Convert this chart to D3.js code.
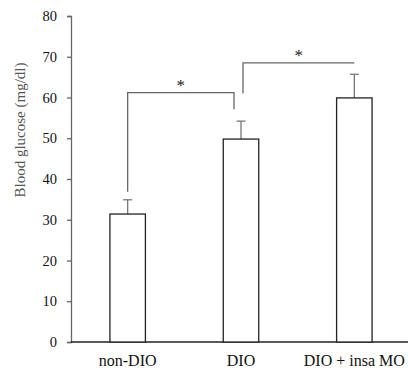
<!DOCTYPE html>
<html>
<head>
<meta charset="utf-8">
<script src="https://cdn.jsdelivr.net/npm/d3@7"></script>
<style>
  body { margin: 0; background: #fff; }
  text { font-family: "Liberation Serif", "DejaVu Serif", serif; }
</style>
</head>
<body>
<svg id="canvas" width="408" height="373"></svg>
<script>
let groups = ["non-DIO", "DIO", "DIO + insa MO"];
let means = [31.4, 49.8, 59.9];
let errors = [3.5, 4.4, 5.8];
let yTicks = [0, 10, 20, 30, 40, 50, 60, 70, 80];

// significance brackets: [from group, to group, top value, left foot, right foot]
let brackets = [
  ["non-DIO", "DIO", 61.2, 36.9, 57.1],
  ["DIO", "DIO + insa MO", 68.5, 61.0, null]
];

let canvas = d3.select("#canvas");

let xScale = d3
  .scaleBand()
  .domain(groups)
  .range([71, 411])
  .paddingInner(0.687)
  .paddingOuter(0.3435);

let yScale = d3.scaleLinear().domain([0, 80]).range([342, 16]);

let axisColor = "#666";

// y axis
let yAxis = d3.axisLeft(yScale).tickValues(yTicks).tickSize(4).tickPadding(10);
let yG = canvas.append("g").attr("transform", "translate(71,0)").call(yAxis);
yG.select(".domain").attr("stroke", axisColor).attr("stroke-width", 1.3);
yG.selectAll(".tick line").attr("stroke", axisColor).attr("stroke-width", 1.3);
yG.selectAll(".tick text")
  .attr("fill", "#111")
  .style("font-size", "14.5px")
  .style("font-family", "Liberation Serif, serif");

// x axis line
canvas
  .append("line")
  .attr("x1", 71)
  .attr("x2", 408)
  .attr("y1", yScale(0))
  .attr("y2", yScale(0))
  .attr("stroke", "#222")
  .attr("stroke-width", 1.3);

// x labels
canvas
  .selectAll(".xlabel")
  .data(groups)
  .enter()
  .append("text")
  .attr("class", "xlabel")
  .attr("x", (g) => xScale(g) + xScale.bandwidth() / 2)
  .attr("y", 366)
  .attr("text-anchor", "middle")
  .attr("fill", "#111")
  .style("font-size", "16px")
  .text((g) => g);

// y label
canvas
  .append("text")
  .attr("transform", "translate(25,130) rotate(-90)")
  .attr("text-anchor", "middle")
  .attr("fill", "#555")
  .style("font-size", "15px")
  .text("Blood glucose (mg/dl)");

// error bars
let err = canvas
  .selectAll(".err")
  .data(groups)
  .enter()
  .append("g")
  .attr("class", "err");

err
  .append("line")
  .attr("x1", (g) => xScale(g) + xScale.bandwidth() / 2)
  .attr("x2", (g) => xScale(g) + xScale.bandwidth() / 2)
  .attr("y1", (g, i) => yScale(means[i]))
  .attr("y2", (g, i) => yScale(means[i] + errors[i]))
  .attr("stroke", "#777")
  .attr("stroke-width", 1.3);

err
  .append("line")
  .attr("x1", (g) => xScale(g) + xScale.bandwidth() / 2 - 4.5)
  .attr("x2", (g) => xScale(g) + xScale.bandwidth() / 2 + 4.5)
  .attr("y1", (g, i) => yScale(means[i] + errors[i]))
  .attr("y2", (g, i) => yScale(means[i] + errors[i]))
  .attr("stroke", "#777")
  .attr("stroke-width", 1.3);

// bars
canvas
  .selectAll(".bar")
  .data(groups)
  .enter()
  .append("rect")
  .attr("class", "bar")
  .attr("x", (g) => xScale(g))
  .attr("y", (g, i) => yScale(means[i]))
  .attr("width", xScale.bandwidth())
  .attr("height", (g, i) => yScale(0) - yScale(means[i]))
  .attr("fill", "#fff")
  .attr("stroke", "#222")
  .attr("stroke-width", 1.3);

// brackets
brackets.forEach((b) => {
  let xa = xScale(b[0]) + xScale.bandwidth() / 2;
  let xb = xScale(b[1]) + xScale.bandwidth() / 2;
  if (b[0] === "DIO") xa += 2;
  if (b[1] === "DIO") xb -= 7;
  let path = d3.path();
  path.moveTo(xa, yScale(b[3]));
  path.lineTo(xa, yScale(b[2]));
  path.lineTo(xb, yScale(b[2]));
  if (b[4] !== null) path.lineTo(xb, yScale(b[4]));
  canvas
    .append("path")
    .attr("d", path.toString())
    .attr("fill", "none")
    .attr("stroke", "#666")
    .attr("stroke-width", 1.3);
  canvas
    .append("text")
    .attr("x", (xa + xb) / 2)
    .attr("y", yScale(b[2]) - 2)
    .attr("text-anchor", "middle")
    .attr("fill", "#222")
    .style("font-size", "17px")
    .text("*");
});
</script>
</body>
</html>
